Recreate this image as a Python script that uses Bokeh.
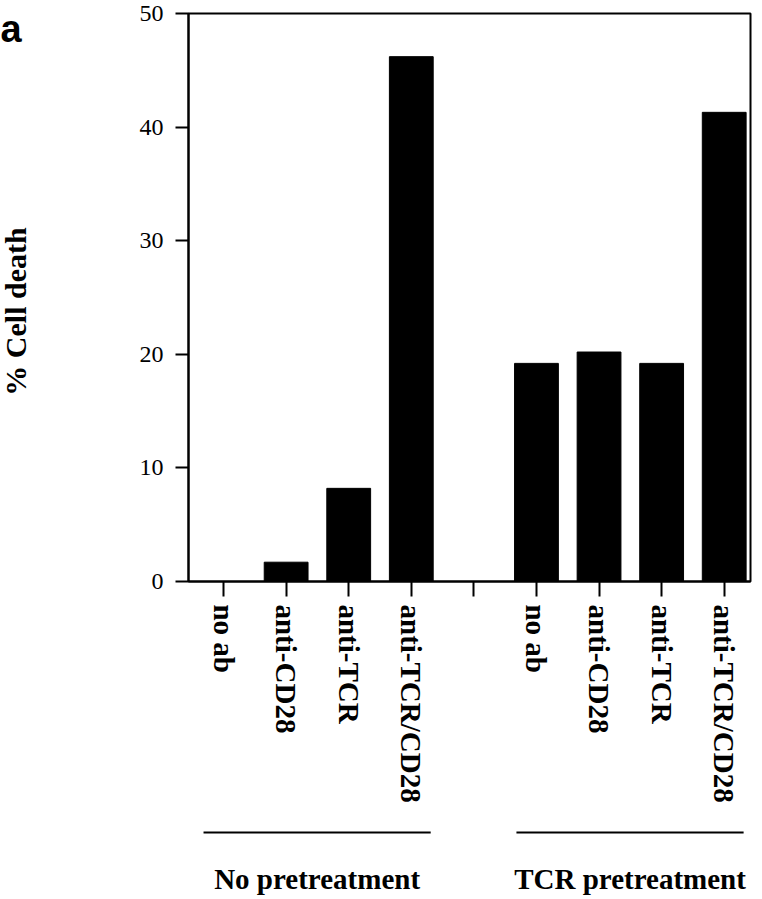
import math
from bokeh.plotting import figure
from bokeh.layouts import column, row
from bokeh.models import FixedTicker, Range1d
from bokeh.core.properties import value
from bokeh.embed import file_html
from bokeh.resources import INLINE

# ---- data ----
tick_labels = ["no ab", "anti-CD28", "anti-TCR", "anti-TCR/CD28", "",
               "no ab", "anti-CD28", "anti-TCR", "anti-TCR/CD28"]
group_names = ["No pretreatment", "TCR pretreatment"]
no_pre_values = [0.0, 1.7, 8.2, 46.2]
tcr_pre_values = [19.2, 20.2, 19.2, 41.3]
y_ticks = [0, 10, 20, 30, 40, 50]
y_title = "% Cell death"
panel_letter = "a"

# positions derived from category order (slot 5 is an empty gap)
n = len(tick_labels)
positions = list(range(1, n + 1))
g1_pos = positions[0:4]
g2_pos = positions[5:9]
xs = g1_pos + g2_pos
tops = no_pre_values + tcr_pre_values

SERIF = "Liberation Serif"
TOTAL_W = 762
TOTAL_H = 899
LEFT_W = 46
MAIN_H = 808
LOW_H = TOTAL_H - MAIN_H
RIGHT_W = TOTAL_W - LEFT_W
FRAME_TOP = 13
FRAME_BOTTOM = 581

# ---- left strip: panel letter and y title ----
pl = figure(width=LEFT_W, height=TOTAL_H, output_backend="svg", toolbar_location=None,
            x_range=Range1d(0, 1), y_range=Range1d(0, 1),
            x_axis_type=None, y_axis_type=None,
            min_border_left=0, min_border_right=0, min_border_top=0, min_border_bottom=0)
pl.xgrid.visible = False
pl.ygrid.visible = False
pl.outline_line_color = None
pl.text(x=[0.0], y=[1 - 28 / TOTAL_H], text=[panel_letter], text_font=value("Liberation Sans"),
        text_font_style="bold", text_font_size="38px", text_align="left",
        text_baseline="alphabetic", text_color="black")
pl.text(x=[0.33], y=[1 - 311 / TOTAL_H], text=[y_title], text_font=value(SERIF),
        text_font_style="bold", text_font_size="30px", text_align="center",
        text_baseline="middle", angle=math.pi / 2, text_color="black")

# ---- main chart ----
p = figure(width=RIGHT_W, height=MAIN_H, output_backend="svg", toolbar_location=None,
           x_range=Range1d(0.44, 9.42), y_range=Range1d(0, 50),
           min_border_left=188 - LEFT_W, min_border_right=TOTAL_W - 750,
           min_border_top=FRAME_TOP, min_border_bottom=MAIN_H - FRAME_BOTTOM)
p.vbar(x=xs, top=tops, width=0.7, color="black")

p.xgrid.visible = False
p.ygrid.visible = False
p.outline_line_color = "black"
p.outline_line_width = 2

xa = p.xaxis[0]
xa.ticker = FixedTicker(ticks=positions)
xa.major_label_overrides = {pos: lab for pos, lab in zip(positions, tick_labels)}
xa.major_label_orientation = "vertical"
xa.major_label_text_font = SERIF
xa.major_label_text_font_style = "bold"
xa.major_label_text_font_size = "29px"
xa.major_label_text_color = "black"
xa.major_tick_out = 15
xa.major_tick_in = 0
xa.major_tick_line_width = 2
xa.minor_tick_line_color = None
xa.axis_line_width = 2
xa.major_label_standoff = 8

ya = p.yaxis[0]
ya.ticker = FixedTicker(ticks=y_ticks)
ya.major_label_text_font = SERIF
ya.major_label_text_font_size = "24px"
ya.major_label_text_color = "black"
ya.major_tick_out = 13
ya.major_tick_in = 0
ya.major_tick_line_width = 2
ya.minor_tick_line_color = None
ya.axis_line_width = 2
ya.major_label_standoff = 12

# ---- lower panel: group bars and names ----
p2 = figure(width=RIGHT_W, height=LOW_H, output_backend="svg", toolbar_location=None,
            x_range=p.x_range, y_range=Range1d(0, 1),
            x_axis_type=None, y_axis_type=None,
            min_border_left=188 - LEFT_W, min_border_right=TOTAL_W - 750,
            min_border_top=0, min_border_bottom=0)
p2.xgrid.visible = False
p2.ygrid.visible = False
p2.outline_line_color = None

groups = [g1_pos, g2_pos]
x0 = [g[0] - 0.32 for g in groups]
x1 = [g[-1] + 0.31 for g in groups]
xc = [(a + b) / 2 for a, b in zip(x0, x1)]
p2.segment(x0=x0, x1=x1, y0=[1 - 24 / LOW_H] * 2, y1=[1 - 24 / LOW_H] * 2,
           line_color="black", line_width=2)
p2.text(x=xc, y=[1 - 70 / LOW_H] * 2, text=group_names, text_font=value(SERIF),
        text_font_style="bold", text_font_size="29px", text_align="center",
        text_baseline="middle", text_color="black")

layout = row(pl, column(p, p2))
open("out.html", "w").write(file_html(layout, INLINE))
